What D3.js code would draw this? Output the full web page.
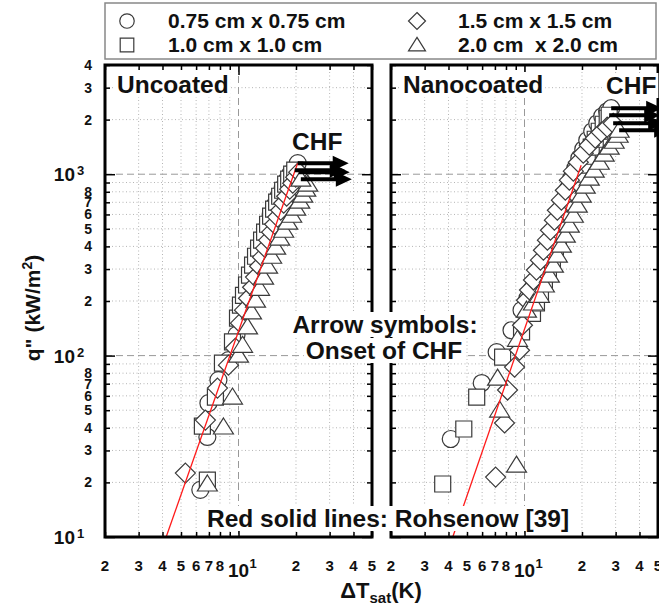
<!DOCTYPE html>
<html>
<head>
<meta charset="utf-8">
<script src="https://cdn.jsdelivr.net/npm/d3@7"></script>
<style>
  body { margin: 0; background: #fff; }
  text { font-family: "Liberation Sans", Arial, sans-serif; font-weight: bold; fill: #111; }
</style>
</head>
<body>
<div id="chart"></div>
<script>
var svgWidth = 659;
var svgHeight = 605;

// legend names
var seriesNames = ["0.75 cm x 0.75 cm", "1.0 cm x 1.0 cm", "1.5 cm x 1.5 cm", "2.0 cm  x 2.0 cm"];
var seriesShapes = ["circle", "square", "diamond", "triangle"];

// Uncoated: [dT_sat (K), q'' (kW/m2)]
var uncoatedC = [[6.31,18.2],[6.87,35.6],[6.96,54.7],[7.85,73.3],[8.86,94.5],[9.76,130],[10.5,178],[11.28,230],[11.99,296],[12.74,358],[13.37,433],[14.03,504],[14.73,594],[15.46,675],[16.23,756],[17.03,837],[17.87,927],[18.76,1013],[20.42,1150]];
var uncoatedS = [[6.87,20.6],[6.47,40.9],[7.57,59.1],[8.24,91],[9.3,119],[9.88,161],[10.24,190],[10.62,215],[11.02,245],[11.42,278],[11.85,315],[12.28,353],[12.74,391],[13.21,433],[13.7,479],[14.2,530],[14.73,587],[15.27,642],[15.84,701],[16.43,756],[17.03,816],[17.66,881],[18.31,939],[18.99,1000],[19.7,1052]];
var uncoatedD = [[5.27,22.5],[6.71,44.1],[7.76,66.2],[8.86,88.6],[9.64,110],[10.24,151],[10.75,178],[11.28,207],[11.85,238],[12.28,271],[12.89,311],[13.37,349],[13.86,391],[14.38,433],[14.91,479],[15.46,530],[16.03,580],[16.63,633],[17.24,692],[17.87,756],[18.54,827],[19.22,892],[19.93,963],[20.67,1026]];
var uncoatedT = [[6.87,19.6],[8.34,40.4],[9.3,59.1],[10,100.6],[10.5,114],[11.15,144],[11.7,174],[12.28,202],[12.89,235],[13.53,271],[14.2,311],[14.91,353],[15.65,396],[16.43,444],[17.24,491],[18.09,544],[18.99,594],[19.93,650],[20.92,710],[21.7,766],[22.5,827],[23.05,881],[21.2,939]];

// Nanocoated
var nanoC = [[4.11,34.7],[5.97,70.6],[7.15,104.5],[8.55,138],[9.65,178],[10.36,207],[11.01,235],[11.69,267],[12.27,303],[12.87,344],[13.5,391],[14.17,444],[14.69,504],[15.23,572],[15.79,650],[16.36,738],[16.96,837],[17.59,951],[18.45,1079],[19.36,1225],[20.31,1373],[21.31,1539],[22.63,1725],[24.03,1910],[25.52,2087],[27.1,2224],[28.43,2311]];
var nanoS = [[3.73,19.6],[4.81,39.4],[5.62,59.1],[7.68,98],[9.65,135],[11.01,171],[11.55,195],[12.12,221],[12.71,251],[13.34,285],[14,323],[14.51,367],[15.05,417],[15.6,473],[16.17,537],[16.76,610],[17.38,692],[18.02,786],[18.68,892],[19.36,1000],[20.31,1121],[21.31,1256],[22.36,1409],[23.46,1559],[24.62,1725],[25.83,1886],[27.1,2035],[27.76,2114]];
var nanoD = [[7.06,21.4],[7.86,42.5],[8.15,64.6],[8.87,86.4],[9.42,107],[9.76,147],[10.24,202],[10.62,230],[11.14,261],[11.55,296],[12.12,336],[12.56,381],[13.18,433],[13.67,491],[14.34,558],[14.86,633],[15.6,719],[16.36,816],[17.17,927],[18.02,1039],[19.13,1164],[20.31,1305],[21.83,1445],[23.46,1579],[25.22,1703],[27.1,1816],[29.12,1910]];
var nanoT = [[9.08,24.9],[7.41,50.1],[7.23,75.2],[9.19,123],[10.24,178],[11.14,195],[11.97,215],[12.71,245],[13.5,278],[14.17,315],[14.86,358],[15.6,406],[16.36,461],[17.17,524],[18.02,594],[18.9,675],[19.83,766],[20.8,859],[21.83,951],[23.18,1052],[24.62,1164],[26.14,1289],[27.76,1409],[29.48,1520],[30.93,1640],[31.3,1747]];

// Rohsenow correlation lines (end points)
var rohsenowUncoated = [[4.18,10],[20.4,1150]];
var rohsenowNano = [[4.21,10],[19.8,1120]];

// ticks
var xMinorTicks = [2,3,4,5,6,7,8,9,20,30,40,50];
var xMinorLabels = [2,3,4,5,6,7,8,20,30,40,50];
var xDecades = [10];
var yMinorTicks = [20,30,40,50,60,70,80,90,200,300,400,500,600,700,800,900,2000,3000,4000];
var yMinorLabels = [20,30,40,50,60,70,80,200,300,400,500,600,700,800,2000,3000,4000];
var yDecades = [10,100,1000];

var panelTop = 65, panelBottom = 537;

var svg = d3.select("#chart")
  .append("svg")
  .attr("width", svgWidth)
  .attr("height", svgHeight);

var yScale = d3.scaleLog().domain([10, 4000]).range([panelBottom, panelTop]);

function markerPath(shape, k) {
  k = k || 1;
  if (shape === "circle") return `M${-8.5*k},0a${8.5*k},${8.5*k} 0 1,0 ${17*k},0a${8.5*k},${8.5*k} 0 1,0 ${-17*k},0Z`;
  if (shape === "square") return `M${-8*k},${-8*k}H${8*k}V${8*k}H${-8*k}Z`;
  if (shape === "diamond") return `M0,${-10*k}L${10*k},0L0,${10*k}L${-10*k},0Z`;
  return `M0,${-9*k}L${10*k},${7*k}H${-10*k}Z`;
}

function addLabel(parent, x, y, str, size, anchor) {
  var g = parent.append("g");
  var t = g.append("text")
    .attr("x", x).attr("y", y)
    .attr("font-size", size)
    .attr("text-anchor", anchor || "start")
    .text(str);
  var b = t.node().getBBox();
  g.insert("rect", "text")
    .attr("x", b.x - 2).attr("y", b.y + 1)
    .attr("width", b.width + 4).attr("height", b.height - 2)
    .attr("fill", "#fff");
  return g;
}

function drawPanel(x0, x1, label, series, rohsenow) {
  var xScale = d3.scaleLog().domain([2, 50]).range([x0, x1]);
  var g = svg.append("g");
  var width = x1 - x0, height = panelBottom - panelTop;

  // grid
  g.selectAll(".hgrid").data(yMinorTicks.filter(v => v < 4000)).enter()
    .append("line")
    .attr("x1", x0).attr("x2", x1)
    .attr("y1", d => yScale(d)).attr("y2", d => yScale(d))
    .attr("stroke", "#b5b5b5").attr("stroke-dasharray", "1,2.5");
  g.selectAll(".vgrid").data(xMinorTicks.filter(v => v > 2 && v < 50)).enter()
    .append("line")
    .attr("y1", panelTop).attr("y2", panelBottom)
    .attr("x1", d => xScale(d)).attr("x2", d => xScale(d))
    .attr("stroke", "#b5b5b5").attr("stroke-dasharray", "1,2.5");
  g.selectAll(".hdec").data([100, 1000]).enter()
    .append("line")
    .attr("x1", x0).attr("x2", x1)
    .attr("y1", d => yScale(d)).attr("y2", d => yScale(d))
    .attr("stroke", "#999").attr("stroke-dasharray", "7,4");
  g.selectAll(".vdec").data(xDecades).enter()
    .append("line")
    .attr("y1", panelTop).attr("y2", panelBottom)
    .attr("x1", d => xScale(d)).attr("x2", d => xScale(d))
    .attr("stroke", "#999").attr("stroke-dasharray", "7,4");

  // markers
  series.forEach(function(data, i) {
    g.append("g").selectAll("path")
      .data(data).enter()
      .append("path")
      .attr("d", markerPath(seriesShapes[i]))
      .attr("transform", d => `translate(${xScale(d[0])},${yScale(d[1])})`)
      .attr("fill", "#fff")
      .attr("stroke", "#3a3a3a")
      .attr("stroke-width", 1.2);
  });

  // Rohsenow line
  g.append("path")
    .datum(rohsenow)
    .attr("d", d3.line().x(d => xScale(d[0])).y(d => yScale(d[1])))
    .attr("stroke", "#ff1a1a").attr("stroke-width", 1.3).attr("fill", "none");

  // onset of CHF arrows
  series.forEach(function(data) {
    var last = data[data.length - 1];
    var px = xScale(last[0]), py = yScale(last[1]);
    g.append("path")
      .attr("d", `M${px},${py-2}H${px+35}V${py-7.5}L${px+51},${py}L${px+35},${py+7.5}V${py+2}H${px}Z`)
      .attr("fill", "#000");
  });

  // frame
  g.append("rect")
    .attr("x", x0).attr("y", panelTop)
    .attr("width", width).attr("height", height)
    .attr("fill", "none").attr("stroke", "#000").attr("stroke-width", 3);

  // ticks (inward)
  var axes = g.append("g").attr("class", "ticks");
  axes.append("g").attr("transform", `translate(0,${panelBottom})`)
    .call(d3.axisBottom(xScale).tickValues(xMinorTicks).tickSize(-5).tickFormat(""));
  axes.append("g").attr("transform", `translate(0,${panelBottom})`)
    .call(d3.axisBottom(xScale).tickValues(xDecades).tickSize(-10).tickFormat(""));
  axes.append("g").attr("transform", `translate(0,${panelTop})`)
    .call(d3.axisTop(xScale).tickValues(xMinorTicks).tickSize(-5).tickFormat(""));
  axes.append("g").attr("transform", `translate(0,${panelTop})`)
    .call(d3.axisTop(xScale).tickValues(xDecades).tickSize(-10).tickFormat(""));
  axes.append("g").attr("transform", `translate(${x0},0)`)
    .call(d3.axisLeft(yScale).tickValues(yMinorTicks).tickSize(-5).tickFormat(""));
  axes.append("g").attr("transform", `translate(${x0},0)`)
    .call(d3.axisLeft(yScale).tickValues(yDecades).tickSize(-10).tickFormat(""));
  axes.append("g").attr("transform", `translate(${x1},0)`)
    .call(d3.axisRight(yScale).tickValues(yMinorTicks).tickSize(-5).tickFormat(""));
  axes.append("g").attr("transform", `translate(${x1},0)`)
    .call(d3.axisRight(yScale).tickValues(yDecades).tickSize(-10).tickFormat(""));
  axes.selectAll(".domain").remove();
  axes.selectAll("line").attr("stroke", "#000").attr("stroke-width", 1.5);

  // x tick labels
  g.selectAll(".xlab").data(xMinorLabels).enter()
    .append("text")
    .attr("x", d => xScale(d)).attr("y", 571)
    .attr("text-anchor", "middle").attr("font-size", 15)
    .text(d => d < 10 ? d : d / 10);
  xDecades.forEach(function(v) {
    g.append("text").attr("x", xScale(v)).attr("y", 577)
      .attr("text-anchor", "middle").attr("font-size", 19).text("10");
    g.append("text").attr("x", xScale(v) + 11).attr("y", 568)
      .attr("font-size", 13).text("1");
  });

  // panel label
  addLabel(g, x0 + 12, 93, label, 24.5);
  return xScale;
}

var xl = drawPanel(105, 372, "Uncoated", [uncoatedC, uncoatedS, uncoatedD, uncoatedT], rohsenowUncoated);
var xr = drawPanel(391, 658, "Nanocoated", [nanoC, nanoS, nanoD, nanoT], rohsenowNano);

addLabel(svg, 292, 150, "CHF", 24.5);
addLabel(svg, 606, 94, "CHF", 24.5);
addLabel(svg, 385, 333, "Arrow symbols:", 24.5, "middle");
addLabel(svg, 384, 359, "Onset of CHF", 24.5, "middle");
addLabel(svg, 388, 527, "Red solid lines: Rohsenow [39]", 24.5, "middle");

// y tick labels
svg.selectAll(".ylab").data(yMinorLabels).enter()
  .append("text")
  .attr("x", 92).attr("y", d => yScale(d) + 5)
  .attr("text-anchor", "end").attr("font-size", 14)
  .text(d => +String(d)[0]);
yDecades.forEach(function(v, i) {
  svg.append("text").attr("x", 75).attr("y", yScale(v) + 7)
    .attr("text-anchor", "end").attr("font-size", 19).text("10");
  svg.append("text").attr("x", 77).attr("y", yScale(v) + 1)
    .attr("font-size", 13).text(i + 1);
});

// axis titles
var yt = svg.append("text")
  .attr("transform", "translate(40,308) rotate(-90)")
  .attr("text-anchor", "middle").attr("font-size", 21);
yt.append("tspan").text("q\" (kW/m");
yt.append("tspan").attr("font-size", 14).attr("dy", -8).text("2");
yt.append("tspan").attr("dy", 8).text(")");

var xt = svg.append("text")
  .attr("x", 381).attr("y", 598)
  .attr("text-anchor", "middle").attr("font-size", 22);
xt.append("tspan").text("\u0394T");
xt.append("tspan").attr("font-size", 15).attr("dy", 5).text("sat");
xt.append("tspan").attr("dy", -5).text("(K)");

// legend
var legend = svg.append("g");
legend.append("rect")
  .attr("x", 105).attr("y", 3).attr("width", 551).attr("height", 56)
  .attr("fill", "#fff").attr("stroke", "#888").attr("stroke-width", 1.5);
var legendX = [127, 127, 417, 417], legendY = [21, 45, 21, 45];
seriesNames.forEach(function(name, i) {
  legend.append("path")
    .attr("d", markerPath(seriesShapes[i], 0.85))
    .attr("transform", `translate(${legendX[i]},${legendY[i]})`)
    .attr("fill", "#fff").attr("stroke", "#3a3a3a").attr("stroke-width", 1.2);
  legend.append("text")
    .attr("x", legendX[i] + 41).attr("y", legendY[i] + 7)
    .attr("font-size", 21)
    .style("white-space", "pre")
    .text(name);
});
</script>
</body>
</html>
